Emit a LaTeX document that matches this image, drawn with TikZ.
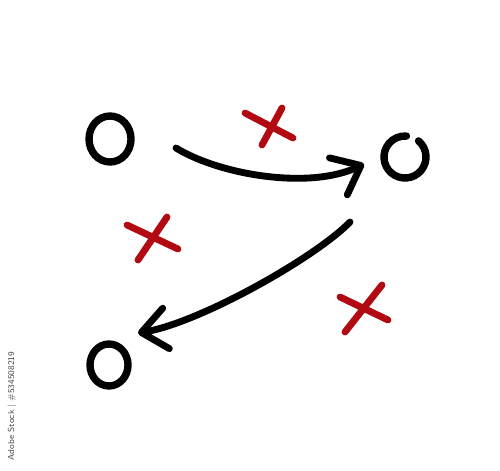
\documentclass[tikz,border=0pt]{standalone}
\usetikzlibrary{arrows.meta}
\definecolor{crossred}{HTML}{B20A12}
\definecolor{markgray}{HTML}{4A4A4A}
\tikzset{
  player/.style={draw=black,line width=4.2pt,line cap=round},
  move/.style={draw=black,line width=3.9pt,line cap=round,
    -{Straight Barb[length=0.5cm,width=0.82cm,round]}},
  opponent/.style={draw=crossred,line width=3.9pt,line cap=round},
}
\begin{document}
\begin{tikzpicture}[x=0.02cm,y=-0.02cm]
            \useasboundingbox (0,0) rectangle (500,470);

            \coordinate (o1) at (110, 139);
            \coordinate (o2) at (405, 157);
            \coordinate (o3) at (109, 365);

            \draw[player] (o1) circle[x radius=21, y radius=23];
            \draw[player] ([shift={(-50:21)}]o2) arc (-50:274:21);
            \draw[player] (o3) circle[x radius=19, y radius=21];

            % runs
            \coordinate (r1s) at (176, 148);
            \coordinate (r1e) at (364, 164);
            \coordinate (r2s) at (350, 222);
            \coordinate (r2e) at (138, 333);
            \draw[move] (r1s) .. controls (220, 175) and (310, 190) .. (r1e);
            \draw[move] (r2s) .. controls (315, 258) and (199, 323) .. (r2e);

            % defenders
            \coordinate (x1) at (270, 127);
            \coordinate (x2) at (152, 238);
            \coordinate (x3) at (364, 309);
            \draw[opponent] (245, 113) -- (293, 138) (282, 108) -- (262, 145);
            \draw[opponent] (127, 225) -- (178, 249) (167, 217) -- (138, 260);
            \draw[opponent] (340, 297) -- (388, 320) (382, 285) -- (345, 332);

            \node[rotate=90,text=markgray,font=\sffamily\fontsize{5}{6}\selectfont] (credit) at (12, 406) {Adobe Stock | \#534508219};
        \end{tikzpicture}
\end{document}
